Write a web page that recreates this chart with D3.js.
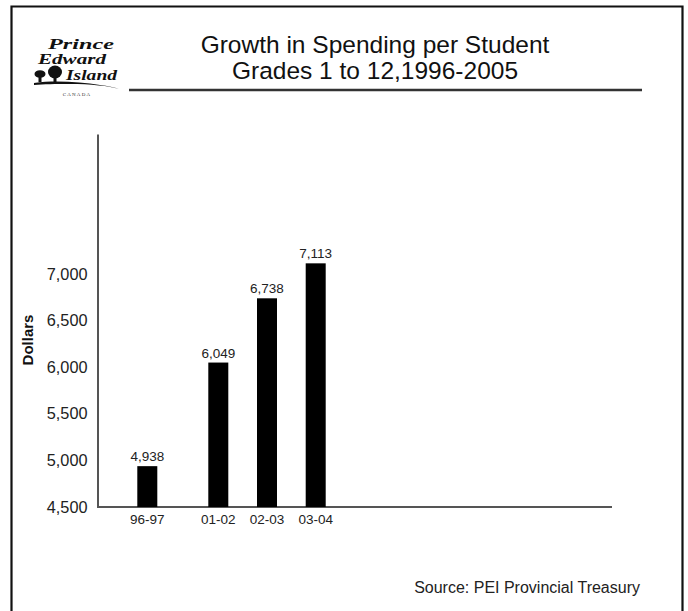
<!DOCTYPE html>
<html>
<head>
<meta charset="utf-8">
<script src="https://cdn.jsdelivr.net/npm/d3@7"></script>
<style>
  html, body { margin: 0; padding: 0; background: #fff; }
  svg { display: block; font-family: "Liberation Sans", Arial, Helvetica, sans-serif; }
</style>
</head>
<body>
<svg id="chart" width="688" height="611"></svg>
<script>
// ---- data ----
const categories = ["96-97", "01-02", "02-03", "03-04"];
const startYears = [1996, 2001, 2002, 2003];
const values = [4938, 6049, 6738, 7113];
const yTicks = [4500, 5000, 5500, 6000, 6500, 7000];
const titleLines = ["Growth in Spending per Student", "Grades 1 to 12,1996-2005"];
const yLabel = "Dollars";
const source = "Source: PEI Provincial Treasury";

// ---- layout ----
const svg = d3.select("#chart");
const fmt = d3.format(",");

// frame
svg.append("path")
  .attr("d", "M11.5,620 V6.5 H682.5 V620")
  .attr("fill", "none").attr("stroke", "#111").attr("stroke-width", 2.2);

// logo
const logo = svg.append("g").attr("class", "logo")
  .style("font-family", "'Liberation Serif', 'DejaVu Serif', serif")
  .style("font-style", "italic").attr("fill", "#111");
const logoLines = [
  {t: "Prince", x: 48, y: 48.5, w: 66},
  {t: "Edward", x: 38, y: 64, w: 68},
  {t: "Island", x: 66, y: 80, w: 51}
];
logo.selectAll("text.l").data(logoLines).join("text").attr("class", "l")
  .attr("x", d => d.x).attr("y", d => d.y).attr("font-size", 14)
  .attr("font-weight", "bold")
  .attr("textLength", d => d.w).attr("lengthAdjust", "spacingAndGlyphs")
  .text(d => d.t);
// trees
logo.append("ellipse").attr("cx", 40).attr("cy", 74).attr("rx", 5.5).attr("ry", 3.8);
logo.append("rect").attr("x", 38.5).attr("y", 74).attr("width", 3).attr("height", 8);
logo.append("ellipse").attr("cx", 55).attr("cy", 72).attr("rx", 7).attr("ry", 6.5);
logo.append("rect").attr("x", 53.5).attr("y", 74).attr("width", 3).attr("height", 8);
// swoosh
logo.append("path")
  .attr("d", "M34,83 C55,80 80,82 100,85 C108,86 114,87 119,89 C110,86 90,84 70,84 C55,84 44,84 34,85 Z")
  .attr("fill", "#111");
logo.append("text").attr("x", 77).attr("y", 96).attr("font-size", 5)
  .attr("text-anchor", "middle").style("font-style", "normal")
  .attr("letter-spacing", 1.2).attr("fill", "#333").text("CANADA");

// title
svg.append("g").selectAll("text").data(titleLines).join("text")
  .attr("x", 375).attr("y", (d, i) => 53 + i * 26)
  .attr("text-anchor", "middle").attr("font-size", 24.5).attr("fill", "#111")
  .text(d => d);
svg.append("line").attr("x1", 129).attr("x2", 642).attr("y1", 90).attr("y2", 90)
  .attr("stroke", "#333").attr("stroke-width", 2.4);

// scales
const y = d3.scaleLinear().domain([4500, 8500]).range([507, 134]);
const x = d3.scaleLinear().domain([1996, 2001, 2003]).range([147.3, 218.3, 315.7]);
const barW = 20;

// y axis
const yAxis = svg.append("g").attr("transform", "translate(97.5,0)")
  .call(d3.axisLeft(y).tickValues(yTicks).tickFormat(fmt).tickSize(0).tickPadding(10));
yAxis.select(".domain").attr("stroke", "#555").attr("stroke-width", 2);
yAxis.selectAll("text").attr("font-size", 16.3).attr("fill", "#222")
  .style("font-family", "'Liberation Sans', Arial, sans-serif");

// x axis baseline
svg.append("line").attr("x1", 97).attr("x2", 612).attr("y1", y(4500)).attr("y2", y(4500))
  .attr("stroke", "#555").attr("stroke-width", 2);

// bars
svg.append("g").selectAll("rect").data(values).join("rect")
  .attr("x", (d, i) => x(startYears[i]) - barW / 2)
  .attr("y", d => y(d))
  .attr("width", barW)
  .attr("height", d => y(4500) - y(d))
  .attr("fill", "#000");

// value labels
svg.append("g").selectAll("text").data(values).join("text")
  .attr("x", (d, i) => x(startYears[i]))
  .attr("y", d => y(d) - 5)
  .attr("text-anchor", "middle").attr("font-size", 13.5).attr("fill", "#222")
  .text(d => fmt(d));

// category labels
svg.append("g").selectAll("text").data(categories).join("text")
  .attr("x", (d, i) => x(startYears[i]))
  .attr("y", 524)
  .attr("text-anchor", "middle").attr("font-size", 13.5).attr("fill", "#222")
  .text(d => d);

// y label
svg.append("text")
  .attr("transform", "translate(33,340) rotate(-90)")
  .attr("text-anchor", "middle").attr("font-size", 15).attr("font-weight", "bold")
  .attr("fill", "#111").text(yLabel);

// source
svg.append("text").attr("x", 640).attr("y", 593).attr("text-anchor", "end")
  .attr("font-size", 16).attr("fill", "#222").text(source);
</script>
</body>
</html>
